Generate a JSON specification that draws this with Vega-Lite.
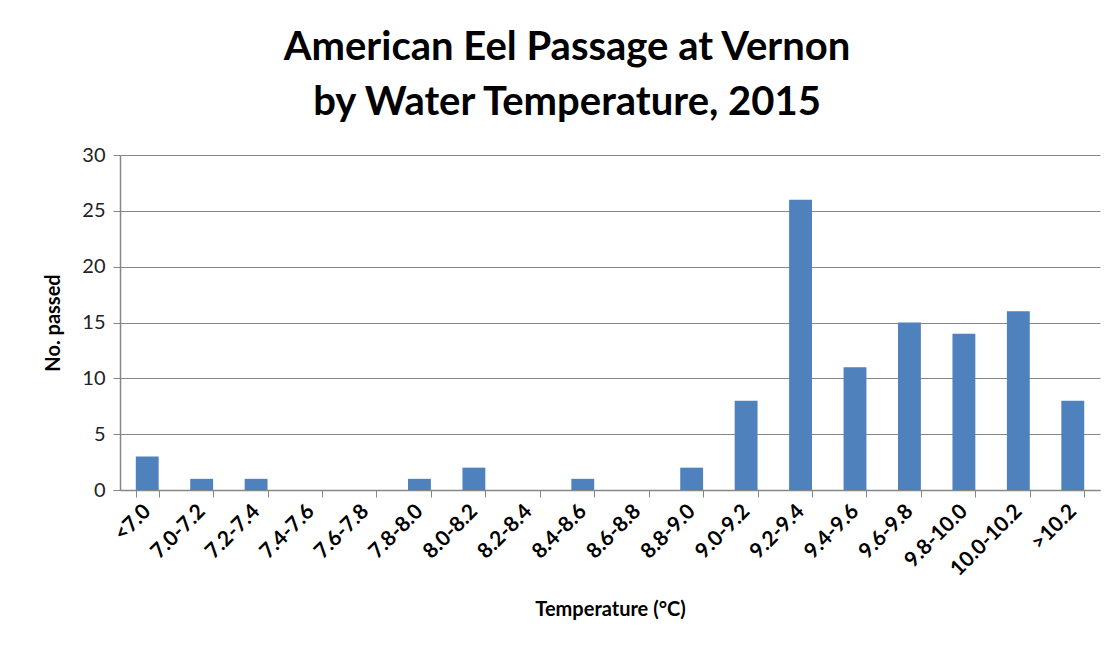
{
  "$schema": "https://vega.github.io/schema/vega-lite/v6.json",
  "autosize": {"type": "none"},
  "width": 980,
  "height": 335,
  "padding": {"left": 120, "top": 155, "right": 15, "bottom": 165},
  "background": "white",
  "title": {
    "text": ["American Eel Passage at Vernon", "by Water Temperature, 2015"],
    "font": "Lato",
    "fontSize": 40,
    "fontWeight": "bold",
    "color": "#000000",
    "anchor": "middle",
    "dx": -43,
    "lineHeight": 55,
    "offset": 22
  },
  "data": {
    "values": [
      {"range": "<7.0", "count": 3},
      {"range": "7.0-7.2", "count": 1},
      {"range": "7.2-7.4", "count": 1},
      {"range": "7.4-7.6", "count": 0},
      {"range": "7.6-7.8", "count": 0},
      {"range": "7.8-8.0", "count": 1},
      {"range": "8.0-8.2", "count": 2},
      {"range": "8.2-8.4", "count": 0},
      {"range": "8.4-8.6", "count": 1},
      {"range": "8.6-8.8", "count": 0},
      {"range": "8.8-9.0", "count": 2},
      {"range": "9.0-9.2", "count": 8},
      {"range": "9.2-9.4", "count": 26},
      {"range": "9.4-9.6", "count": 11},
      {"range": "9.6-9.8", "count": 15},
      {"range": "9.8-10.0", "count": 14},
      {"range": "10.0-10.2", "count": 16},
      {"range": ">10.2", "count": 8}
    ]
  },
  "mark": {"type": "bar", "color": "#4F81BD"},
  "encoding": {
    "x": {
      "field": "range",
      "type": "nominal",
      "sort": null,
      "scale": {"paddingInner": 0.58, "paddingOuter": 0.29},
      "axis": {
        "title": "Temperature (°C)",
        "titleFont": "Lato",
        "titleFontSize": 20,
        "titleFontWeight": "bold",
        "titleColor": "#000000",
        "titlePadding": 20,
        "labelAngle": -45,
        "labelAlign": "right",
        "labelBaseline": "middle",
        "labelFont": "Lato",
        "labelFontSize": 21,
        "labelFontWeight": "bold",
        "labelColor": "#000000",
        "labelPadding": 11,
        "tickBand": "extent",
        "tickColor": "#868686",
        "tickSize": 7,
        "domainColor": "#868686",
        "domainWidth": 1.5,
        "grid": false
      }
    },
    "y": {
      "field": "count",
      "type": "quantitative",
      "scale": {"domain": [0, 30]},
      "axis": {
        "title": "No. passed",
        "titleFont": "Lato",
        "titleFontSize": 20,
        "titleFontWeight": "bold",
        "titleColor": "#000000",
        "titlePadding": 18,
        "values": [0, 5, 10, 15, 20, 25, 30],
        "labelFont": "Lato",
        "labelFontSize": 20,
        "labelColor": "#222222",
        "labelPadding": 8,
        "tickColor": "#868686",
        "tickSize": 7,
        "domainColor": "#868686",
        "domainWidth": 1.5,
        "gridColor": "#868686",
        "gridWidth": 1.2
      }
    }
  },
  "config": {"view": {"stroke": null}}
}
